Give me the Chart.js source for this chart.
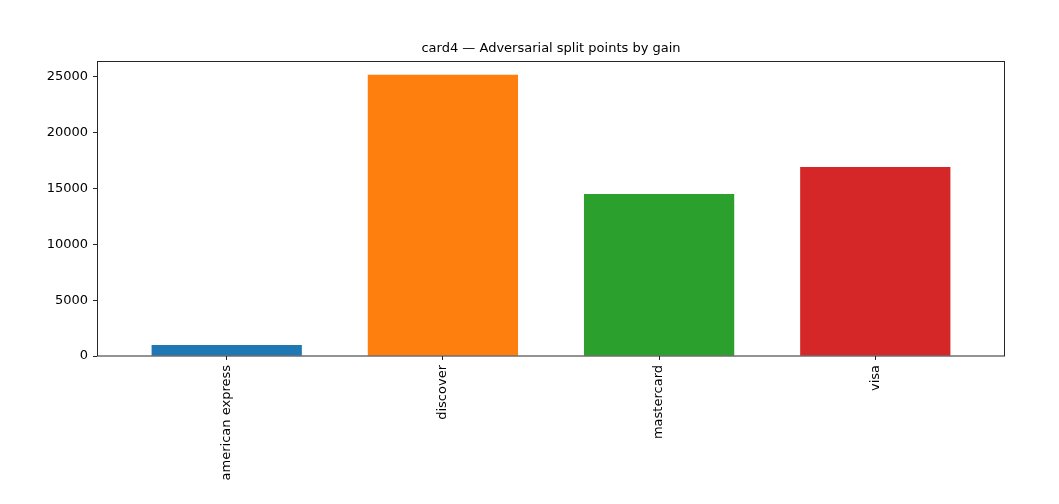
<!DOCTYPE html>
<html>
<head>
<meta charset="utf-8">
<script src="https://cdn.jsdelivr.net/npm/chart.js@4.4.0/dist/chart.umd.min.js"></script>
<style>
  html, body { margin: 0; padding: 0; background: #fff; }
  canvas { display: block; }
</style>
</head>
<body>
<canvas id="c" width="1059" height="504"></canvas>
<script>
const categories = ["american express", "discover", "mastercard", "visa"];
const gainValues = [990, 25200, 14500, 16930];
const barColors = ["#1f77b4", "#ff7f0e", "#2ca02c", "#d62728"];
const yTicks = [0, 5000, 10000, 15000, 20000, 25000];
const titleText = "card4 \u2014 Adversarial split points by gain";

const FONT = "'DejaVu Sans', sans-serif";

const frame = {
  id: 'frame',
  afterDatasetsDraw(chart) {
    const a = chart.chartArea;
    const ctx = chart.ctx;
    ctx.save();
    ctx.strokeStyle = '#262626';
    ctx.lineWidth = 1;
    ctx.strokeRect(Math.round(a.left) + 0.5, Math.round(a.top) + 0.5,
                   Math.round(a.right - a.left) - 1, Math.round(a.bottom - a.top) - 0.5);
    ctx.restore();
  }
};

new Chart(document.getElementById('c'), {
  type: 'bar',
  data: {
    datasets: [{
      data: categories.map((c, i) => ({ x: i, y: gainValues[i] })),
      backgroundColor: barColors,
      borderWidth: 0,
      barPercentage: 0.695,
      categoryPercentage: 1.0
    }]
  },
  options: {
    responsive: false,
    devicePixelRatio: 1,
    animation: false,
    layout: { padding: { left: 0, right: 54, top: 0, bottom: 0 } },
    plugins: {
      legend: { display: false },
      tooltip: { enabled: false },
      title: {
        display: true,
        text: titleText,
        fullSize: false,
        color: '#000',
        font: { family: FONT, size: 13, weight: 'normal' },
        padding: { top: 41, bottom: 4 }
      }
    },
    scales: {
      x: {
        type: 'linear',
        offset: false,
        min: -0.6,
        max: 3.6,
        afterBuildTicks(scale) { scale.ticks = categories.map((c, i) => ({ value: i })); },
        afterFit(scale) { scale.height = 148; },
        grid: { display: true, offset: false, drawOnChartArea: false, drawTicks: true, tickLength: 4, color: '#262626' },
        border: { display: false },
        ticks: {
          autoSkip: false,
          minRotation: 90,
          maxRotation: 90,
          padding: 5,
          color: '#000',
          font: { family: FONT, size: 13 },
          callback: (v) => categories[v]
        }
      },
      y: {
        type: 'linear',
        min: 0,
        max: 26460,
        afterBuildTicks(scale) { scale.ticks = yTicks.map(v => ({ value: v })); },
        afterFit(scale) { scale.width = 97; },
        grid: { display: true, drawOnChartArea: false, drawTicks: true, tickLength: 4, color: '#262626' },
        border: { display: false },
        ticks: {
          padding: 5,
          color: '#000',
          font: { family: FONT, size: 13 },
          callback: (v) => String(v)
        }
      }
    }
  },
  plugins: [frame]
});
</script>
</body>
</html>
